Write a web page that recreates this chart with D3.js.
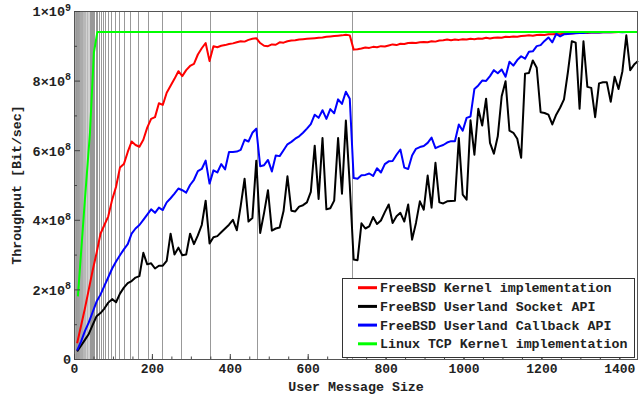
<!DOCTYPE html>
<html>
<head>
<meta charset="utf-8">
<script src="https://cdn.jsdelivr.net/npm/d3@7"></script>
<style>
  body { margin: 0; background: #fff; }
  svg text { font-family: "Liberation Mono", "Courier New", monospace; font-weight: bold; fill: #222; }
</style>
</head>
<body>
<script>
// user message size in bytes (x axis)
const msgSizes = [
  8, 18, 28, 38, 48, 58, 68, 78, 88, 98, 108, 118, 128, 138, 148,
  158, 168, 178, 188, 198, 208, 218, 228, 238, 248, 258, 268, 278, 288, 298,
  308, 318, 328, 338, 348, 358, 368, 378, 388, 398, 408, 418, 428, 438, 448,
  458, 468, 478, 488, 498, 508, 518, 528, 538, 548, 558, 568, 578, 588, 598,
  608, 618, 628, 638, 648, 658, 668, 678, 688, 698, 708, 718, 728, 738, 748,
  758, 768, 778, 788, 798, 808, 818, 828, 838, 848, 858, 868, 878, 888, 898,
  908, 918, 928, 938, 948, 958, 968, 978, 988, 998, 1008, 1018, 1028, 1038, 1048,
  1058, 1068, 1078, 1088, 1098, 1108, 1118, 1128, 1138, 1148, 1158, 1168, 1178, 1188, 1198,
  1208, 1218, 1228, 1238, 1248, 1258, 1268, 1278, 1288, 1298, 1308, 1318, 1328, 1338, 1348,
  1358, 1368, 1378, 1388, 1398, 1408, 1418, 1428, 1438, 1448
];

// throughput, in units of 10^8 bit/sec
const kernelImpl = [
  0.45, 0.95, 1.45, 2.0, 2.55, 3.05, 3.6, 3.85, 4.1, 4.58, 4.95, 5.5, 5.6, 5.95, 6.25,
  6.15, 6.1, 6.3, 6.65, 6.9, 6.95, 7.35, 7.3, 7.65, 7.85, 8.05, 8.27, 8.13, 8.3, 8.42,
  8.48, 8.75, 8.93, 9.08, 8.56, 8.99, 8.96, 9.0, 9.02, 9.05, 9.07, 9.1, 9.13, 9.12, 9.17,
  9.2, 9.22, 9.08, 9.0, 8.99, 9.04, 9.03, 9.1, 9.09, 9.13, 9.15, 9.16, 9.18, 9.19, 9.2,
  9.21, 9.22, 9.23, 9.24, 9.26, 9.27, 9.28, 9.29, 9.3, 9.32, 9.3, 8.89, 8.9, 8.92, 8.95,
  8.94, 8.97, 8.96, 8.99, 8.98, 9.01, 9.04, 9.02, 9.06, 9.05, 9.08, 9.09, 9.08, 9.1, 9.11,
  9.1, 9.13, 9.12, 9.15, 9.16, 9.18, 9.16, 9.18, 9.17, 9.19, 9.18, 9.2, 9.19, 9.21, 9.2,
  9.23, 9.21, 9.23, 9.24, 9.23, 9.26, 9.25, 9.27, 9.26, 9.28, 9.29, 9.3, 9.29, 9.31, 9.32,
  9.31, 9.33, 9.33, 9.34, 9.33, 9.35, 9.36, 9.35, 9.37, 9.37, 9.38, 9.37, 9.38, 9.39, 9.38,
  9.39, 9.39, 9.4, 9.39, 9.4, 9.4, 9.4, 9.4, 9.4, 9.4
];

const socketApi = [
  0.22, 0.38, 0.55, 0.72, 0.98, 1.23, 1.32, 1.45, 1.62, 1.72, 1.63, 1.88, 2.05, 2.18, 2.24,
  2.34, 2.38, 3.05, 2.72, 2.75, 2.6, 2.68, 2.68, 2.82, 3.6, 3.0, 3.2, 2.98, 3.0, 3.6,
  3.3, 3.55, 3.85, 4.55, 3.32, 3.5, 3.53, 3.64, 3.75, 3.86, 4.0, 3.7, 4.4, 5.18, 3.95,
  4.05, 5.7, 3.62, 4.2, 4.85, 3.69, 3.75, 3.78, 4.25, 5.25, 4.26, 4.24, 4.38, 4.42, 4.5,
  4.8, 6.13, 4.6, 6.35, 4.3, 4.33, 4.55, 6.35, 4.75, 6.85, 5.0, 2.86, 2.84, 3.9, 3.75,
  3.81, 4.08, 3.88, 3.98, 4.22, 4.44, 3.91, 4.1, 4.2, 3.95, 4.44, 3.43, 3.91, 4.53, 4.29,
  5.27, 4.35, 5.64, 4.5, 4.47, 4.53, 4.54, 4.55, 6.35, 4.72, 4.58, 6.86, 5.87, 7.19, 6.71,
  7.48, 6.21, 5.9, 6.4, 7.55, 7.98, 6.56, 6.5, 6.33, 5.78, 8.2, 8.22, 8.58, 8.37, 7.09,
  7.07, 7.02, 6.74, 7.02, 7.22, 7.46, 8.24, 9.13, 9.09, 7.19, 9.13, 7.82, 7.79, 6.95, 7.92,
  7.95, 7.95, 7.39, 8.11, 7.76, 8.27, 9.3, 8.3, 8.46, 8.56
];

const callbackApi = [
  0.25, 0.5, 0.8, 1.05, 1.35, 1.65, 1.85, 2.1, 2.35, 2.6, 2.8, 2.98, 3.15, 3.3, 3.6,
  3.75, 3.85, 4.0, 4.15, 4.3, 4.2, 4.35, 4.28, 4.5, 4.62, 4.75, 4.9, 4.85, 4.78, 5.0,
  5.15, 5.4, 5.46, 5.7, 5.04, 5.42, 5.36, 5.6, 5.45, 5.95, 5.95, 5.96, 6.01, 6.3, 6.25,
  6.5, 6.62, 5.54, 5.57, 5.72, 5.39, 5.85, 5.83, 6.0, 6.17, 6.24, 6.33, 6.4, 6.5, 6.62,
  6.75, 7.02, 6.93, 7.15, 6.9, 7.18, 7.06, 7.46, 7.33, 7.68, 7.48, 5.2, 5.18, 5.28, 5.29,
  5.33, 5.26, 5.48, 5.36, 5.6, 5.68, 5.69, 5.87, 6.02, 5.5, 5.46, 5.85, 6.04, 6.09, 6.12,
  6.21, 6.36, 6.06, 6.11, 6.15, 6.22, 6.26, 6.26, 6.74, 6.56, 6.93, 6.97, 7.76, 7.86, 8.0,
  7.99, 8.13, 8.3, 8.21, 8.32, 8.11, 8.54, 8.43, 8.59, 8.7, 8.63, 8.83, 8.84, 8.99, 9.02,
  9.14, 9.24, 9.1, 9.34, 9.27, 9.33, 9.34, 9.35, 9.36, 9.37, 9.37, 9.38, 9.38, 9.39, 9.38,
  9.39, 9.4, 9.39, 9.4, 9.4, 9.39, 9.4, 9.4, 9.4, 9.4
];

// linux was sampled more coarsely
const linuxSizes = [10, 28, 41, 51, 60, 1448];
const linuxKernel = [1.8, 4.58, 6.5, 8.8, 9.4, 9.4];

// gray reference lines (message sizes where the segment packing changes)
const segmentMarks = [
  714, 470, 348, 274.8, 226, 191.1, 165, 144.7, 128.4, 115.1, 104, 94.6, 86.6, 79.6, 73.5,
  68.1, 63.3, 59.1, 55.2, 51.7, 48.5, 45.7, 43, 40.6, 38.3, 36.2, 34.3, 32.5, 30.8, 29.2,
  27.8, 26.4, 25.1, 23.8, 22.7, 21.6, 20.5, 19.5, 18.6, 17.7, 16.9, 16.0, 15.3, 14.5, 13.8,
  13.1, 12.5, 11.9, 11.3, 10.7, 10.2, 9.6, 9.1, 8.6, 8.1, 7.7, 7.2, 6.8, 6.4, 6.0,
  5.6, 5.2, 4.9, 4.5, 4.2, 3.9, 3.5, 3.2, 2.9
];

const xTicks = [0, 200, 400, 600, 800, 1000, 1200, 1400];
const xMinorTicks = d3.range(0, 1449, 50);
const yTicks = [0, 2, 4, 6, 8, 10];
const yMinorTicks = [1, 3, 5, 7, 9];
const yTickMantissa = ["0", "2", "4", "6", "8", "1"];
const yTickExponent = ["", "8", "8", "8", "8", "9"];

const legendLabels = [
  "FreeBSD Kernel implementation",
  "FreeBSD Userland Socket API",
  "FreeBSD Userland Callback API",
  "Linux TCP Kernel implementation"
];
const seriesColors = ["#ff0000", "#000000", "#0000ff", "#00ff00"];

const width = 644, height = 397;
const margin = { top: 11, right: 6, bottom: 38, left: 74 };

const svg = d3.select("body").append("svg")
  .attr("width", width)
  .attr("height", height);

const x = d3.scaleLinear().domain([0, 1448]).range([margin.left, width - margin.right]);
const y = d3.scaleLinear().domain([0, 10]).range([height - margin.bottom, margin.top]);

// gray vertical lines, the tightly packed ones lighter
svg.append("g")
  .attr("stroke", "#999")
  .attr("stroke-width", 1)
  .attr("shape-rendering", "crispEdges")
  .selectAll("line")
  .data(segmentMarks)
  .join("line")
  .attr("stroke-opacity", d => d > 40 ? 1 : 0.45)
  .attr("x1", d => Math.round(x(d)) + 0.5)
  .attr("x2", d => Math.round(x(d)) + 0.5)
  .attr("y1", y(10))
  .attr("y2", y(0));

// series
const series = [
  { xs: msgSizes, ys: kernelImpl },
  { xs: msgSizes, ys: socketApi },
  { xs: msgSizes, ys: callbackApi },
  { xs: linuxSizes, ys: linuxKernel }
];

const line = d3.line()
  .x(d => x(d[0]))
  .y(d => y(d[1]));

svg.append("g")
  .attr("fill", "none")
  .attr("stroke-width", 2)
  .attr("stroke-linejoin", "round")
  .selectAll("path")
  .data(series)
  .join("path")
  .attr("stroke", (d, i) => seriesColors[i])
  .attr("d", d => line(d3.zip(d.xs, d.ys).filter(p => p[1] != null)));

// frame
svg.append("rect")
  .attr("x", x(0) + 0.5)
  .attr("y", y(10) + 0.5)
  .attr("width", x(1448) - x(0) - 1)
  .attr("height", y(0) - y(10))
  .attr("fill", "none")
  .attr("stroke", "#555")
  .attr("stroke-width", 1);

// x axis
const xAxis = svg.append("g")
  .attr("transform", `translate(0,${y(0)})`)
  .call(d3.axisBottom(x).tickValues(xTicks).tickSize(-5).tickPadding(5).tickFormat(d3.format("d")));
svg.append("g")
  .attr("transform", `translate(0,${y(0)})`)
  .call(d3.axisBottom(x).tickValues(xMinorTicks).tickSize(-2.5).tickFormat(""));

// y axis
const yAxis = svg.append("g")
  .attr("transform", `translate(${x(0)},0)`)
  .call(d3.axisLeft(y).tickValues(yTicks).tickSize(-6).tickPadding(3).tickFormat(""));
svg.append("g")
  .attr("transform", `translate(${x(0)},0)`)
  .call(d3.axisLeft(y).tickValues(yMinorTicks).tickSize(-3).tickFormat(""));

svg.selectAll(".domain").remove();
svg.selectAll(".tick line").attr("stroke", "#444");
xAxis.selectAll("text")
  .attr("font-size", 13)
  .attr("fill", "#222");

yAxis.selectAll(".tick text").each(function (d, i) {
  const t = d3.select(this)
    .attr("font-size", 13.5)
    .attr("dy", "0.36em")
    .attr("fill", "#222");
  if (yTickExponent[i] === "") {
    t.text(yTickMantissa[i]);
  } else {
    t.text(null);
    t.append("tspan").text(yTickMantissa[i] + "\u00d710");
    t.append("tspan")
      .attr("font-size", 10)
      .attr("dy", "-0.55em")
      .text(yTickExponent[i]);
  }
});

// axis titles
svg.append("text")
  .attr("x", (x(0) + x(1448)) / 2)
  .attr("y", 391)
  .attr("text-anchor", "middle")
  .attr("font-size", 13.3)
  .text("User Message Size");

svg.append("text")
  .attr("transform", `translate(21,${(y(0) + y(10)) / 2}) rotate(-90)`)
  .attr("text-anchor", "middle")
  .attr("font-size", 13.3)
  .text("Throughput [Bit/sec]");

// legend
const legend = svg.append("g").attr("transform", "translate(342,278)");
legend.append("rect")
  .attr("x", 0.5)
  .attr("y", 0.5)
  .attr("width", 292)
  .attr("height", 79)
  .attr("fill", "#fff")
  .attr("stroke", "#333")
  .attr("stroke-width", 1);

const rows = legend.selectAll("g.row")
  .data(legendLabels)
  .join("g")
  .attr("class", "row")
  .attr("transform", (d, i) => `translate(0,${9.7 + i * 18.7})`);

rows.append("line")
  .attr("x1", 16)
  .attr("x2", 35)
  .attr("stroke", (d, i) => seriesColors[i])
  .attr("stroke-width", 3);

rows.append("text")
  .attr("x", 38)
  .attr("dy", "0.35em")
  .attr("font-size", 13.3)
  .text(d => d);
</script>
</body>
</html>
